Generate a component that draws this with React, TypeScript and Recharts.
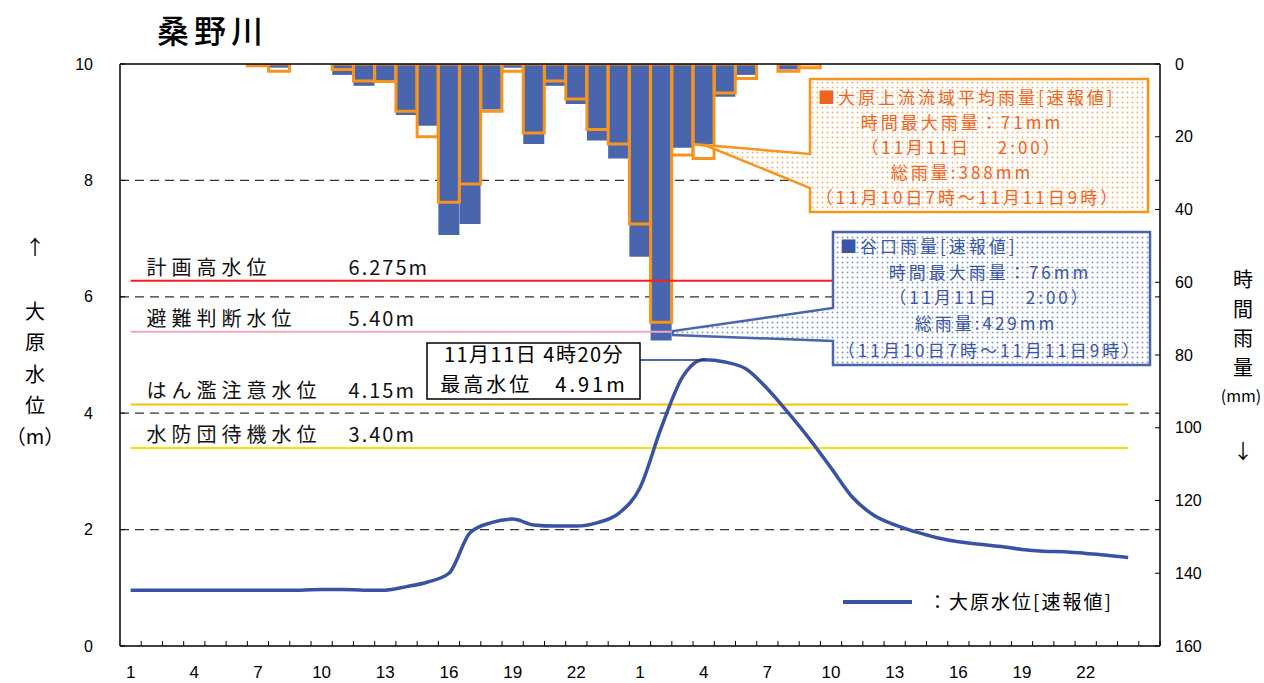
import React from 'react';
import { ComposedChart, Bar, Line, XAxis, YAxis, ReferenceLine, CartesianGrid } from 'recharts';

// ---------- data ----------
const hourLabels: string[] = [
  '1', '2', '3', '4', '5', '6', '7', '8', '9', '10', '11', '12',
  '13', '14', '15', '16', '17', '18', '19', '20', '21', '22', '23', '24',
  '1', '2', '3', '4', '5', '6', '7', '8', '9', '10', '11', '12',
  '13', '14', '15', '16', '17', '18', '19', '20', '21', '22', '23', '24',
  '',
];
const categories: string[] = hourLabels.map(
  (h, i) => (i < 24 ? '10日' : i < 48 ? '11日' : '12日') + (h || '1') + '時'
);

// 大原水位 [m]
const waterLevel: (number | null)[] = [
  0.96, 0.96, 0.96, 0.96, 0.96, 0.96, 0.96, 0.96, 0.96, 0.97, 0.97, 0.96,
  0.96, 1.02, 1.1, 1.25, 1.95, 2.12, 2.18, 2.08, 2.06, 2.06, 2.12, 2.28,
  2.72, 3.75, 4.62, 4.92, 4.88, 4.76, 4.42, 4.0, 3.55, 3.06, 2.56, 2.25,
  2.08, 1.96, 1.86, 1.79, 1.75, 1.71, 1.66, 1.63, 1.62, 1.59, 1.56, 1.52,
  null,
];

// 大原上流流域平均雨量 [mm]
const oharaRain: (number | null)[] = [
  null, null, null, null, null, null, 0.5, 2, null, null, 1.5, 4.7,
  4.8, 13, 20, 38, 33, 13, 2, 19, 4.7, 9.6, 18, 22,
  44, 71, 25, 26, 8, 4, null, 2, 1, null, null, null,
  null, null, null, null, null, null, null, null, null, null, null, null,
  null,
];

// 谷口雨量 [mm]
const taniguchiRain: (number | null)[] = [
  null, null, null, null, null, null, null, 1, null, null, 3, 6,
  5, 14, 17, 47, 44, 12.5, 1, 22, 6, 11, 21, 26,
  53, 76, 23, 22, 9, 3, null, 1.5, null, null, null, null,
  null, null, null, null, null, null, null, null, null, null, null, null,
  null,
];

const levelTicks = [0, 2, 4, 6, 8, 10];
const rainTicks = [0, 20, 40, 60, 80, 100, 120, 140, 160];
const gridLevels = [2, 4, 6, 8];

const thresholdNames = ['計画高水位', '避難判断水位', 'はん濫注意水位', '水防団待機水位'];
const thresholdValues = [6.275, 5.4, 4.15, 3.4];
const thresholdTexts = ['6.275m', '5.40m', '4.15m', '3.40m'];
const thresholdColors = ['#ff1a1a', '#f5a3c0', '#ffc000', '#f2e600'];

// ---------- layout ----------
const CHART_W = 1264;
const CHART_H = 683;
const MARGIN = { top: 64, right: 0, bottom: 0, left: 0 };
const LEFT_AXIS_W = 120;
const RIGHT_AXIS_W = 104;
const X_AXIS_H = 37;
const BAND = (CHART_W - LEFT_AXIS_W - RIGHT_AXIS_W) / categories.length;
const X_TICK_MARGIN = 26;
const L_TICK_MARGIN = 27;
const R_TICK_MARGIN = 15;
const TICK_LEN = 5;

const CJK = "'Noto Sans CJK JP', 'Noto Sans', sans-serif";
const LATIN = "'Liberation Sans', Arial, sans-serif";
const NARROW = "'Liberation Sans Narrow', 'Liberation Sans', Arial, sans-serif";

const BLUE_BAR = '#4965ae';
const ORANGE = '#f7941d';
const LINE_BLUE = '#3953a4';

const XTick = (props: any) => {
  const { x, y, index } = props;
  const axisY = y - X_TICK_MARGIN;
  const label = hourLabels[index];
  return (
    <g>
      <line x1={x + BAND / 2} x2={x + BAND / 2} y1={axisY} y2={axisY - TICK_LEN} stroke="#000" strokeWidth={1} />
      {index % 3 === 0 && label ? (
        <text x={x} y={y} dy="0.355em" textAnchor="middle" fontFamily={NARROW} fontSize={17} fill="#000">
          {label}
        </text>
      ) : null}
    </g>
  );
};

const LeftTick = (props: any) => {
  const { x, y, payload } = props;
  const axisX = x + L_TICK_MARGIN;
  return (
    <g>
      <line x1={axisX} x2={axisX + TICK_LEN} y1={y} y2={y} stroke="#000" strokeWidth={1} />
      <text x={x} y={y} dy="0.355em" textAnchor="end" fontFamily={LATIN} fontSize={16} fill="#000">
        {payload.value}
      </text>
    </g>
  );
};

const RightTick = (props: any) => {
  const { x, y, payload } = props;
  const axisX = x - R_TICK_MARGIN;
  return (
    <g>
      <line x1={axisX} x2={axisX - TICK_LEN} y1={y} y2={y} stroke="#000" strokeWidth={1} />
      <text x={x} y={y} dy="0.355em" textAnchor="start" fontFamily={LATIN} fontSize={16} fill="#000">
        {payload.value}
      </text>
    </g>
  );
};

const ThresholdLabel = (props: any) => {
  const { viewBox, labelName, labelText } = props;
  if (!viewBox) return null;
  const x = viewBox.x;
  const y = viewBox.y;
  return (
    <g>
      <text x={x + 16} y={y - 6} fontFamily={CJK} fontSize={20} letterSpacing={5} fill="#111">
        {labelName}
      </text>
      <text x={x + 218} y={y - 6} fontFamily={CJK} fontSize={20} letterSpacing={2} fill="#111">
        {labelText}
      </text>
    </g>
  );
};

export default function App() {
  const data = categories.map((c, i) => ({
    cat: c,
    level: waterLevel[i],
    ohara: oharaRain[i],
    tani: taniguchiRain[i],
  }));

  const orangeText = '#f0641e';
  const blueText = '#3a57a7';

  return (
    <div style={{ position: 'absolute', left: 0, top: 0, width: CHART_W, height: CHART_H, background: '#fff' }}>
      <ComposedChart width={CHART_W} height={CHART_H} data={data} margin={MARGIN} barCategoryGap={0} barGap={0}>
        <XAxis
          xAxisId="x"
          dataKey="cat"
          type="category"
          interval={0}
          height={X_AXIS_H}
          tickSize={0}
          tickMargin={X_TICK_MARGIN}
          tickLine={false}
          tick={(p: any) => <XTick {...p} />}
          axisLine={{ stroke: '#000', strokeWidth: 1.5 }}
        />
        <XAxis xAxisId="x2" dataKey="cat" type="category" hide />
        <YAxis
          yAxisId="level"
          domain={[0, 10]}
          ticks={levelTicks}
          type="number"
          width={LEFT_AXIS_W}
          tickSize={0}
          tickMargin={L_TICK_MARGIN}
          tickLine={false}
          tick={(p: any) => <LeftTick {...p} />}
          axisLine={{ stroke: '#000', strokeWidth: 1.5 }}
          allowDataOverflow
        />
        <YAxis
          yAxisId="rain"
          orientation="right"
          reversed
          domain={[0, 160]}
          ticks={rainTicks}
          type="number"
          width={RIGHT_AXIS_W}
          tickSize={0}
          tickMargin={R_TICK_MARGIN}
          tickLine={false}
          tick={(p: any) => <RightTick {...p} />}
          axisLine={{ stroke: '#000', strokeWidth: 1.5 }}
          allowDataOverflow
        />
        <CartesianGrid
          xAxisId="x"
          yAxisId="level"
          vertical={false}
          horizontalValues={gridLevels}
          stroke="#333"
          strokeDasharray="9 6"
          strokeWidth={1.2}
        />
        <Bar xAxisId="x" yAxisId="rain" dataKey="tani" fill={BLUE_BAR} isAnimationActive={false} />
        <Bar
          xAxisId="x2"
          yAxisId="rain"
          dataKey="ohara"
          fill="none"
          stroke={ORANGE}
          strokeWidth={3}
          isAnimationActive={false}
        />
        {thresholdValues.map((v, i) => (
          <ReferenceLine
            key={'th' + i}
            xAxisId="x"
            yAxisId="level"
            segment={[
              { x: categories[0], y: v },
              { x: categories[categories.length - 2], y: v },
            ]}
            stroke={thresholdColors[i]}
            strokeWidth={2}
            label={<ThresholdLabel labelName={thresholdNames[i]} labelText={thresholdTexts[i]} />}
          />
        ))}
        <ReferenceLine xAxisId="x" yAxisId="level" y={10} stroke="#000" strokeWidth={1.5} />
        <Line
          xAxisId="x"
          yAxisId="level"
          dataKey="level"
          type="monotone"
          stroke={LINE_BLUE}
          strokeWidth={3.5}
          dot={false}
          activeDot={false}
          isAnimationActive={false}
          connectNulls={false}
        />
      </ComposedChart>

      <svg
        width={CHART_W}
        height={CHART_H}
        style={{ position: 'absolute', left: 0, top: 0, pointerEvents: 'none' }}
      >
        <defs>
          <pattern id="dotO" width="5" height="5" patternUnits="userSpaceOnUse">
            <rect width="5" height="5" fill="#fff" />
            <circle cx="2.5" cy="2.5" r="0.95" fill="#f9b065" />
          </pattern>
          <pattern id="dotB" width="5" height="5" patternUnits="userSpaceOnUse">
            <rect width="5" height="5" fill="#fff" />
            <circle cx="2.5" cy="2.5" r="0.95" fill="#7f95cc" />
          </pattern>
        </defs>

        {/* title */}
        <text x={157} y={43} fontFamily={CJK} fontSize={32} fontWeight={500} letterSpacing={5} fill="#000">
          桑野川
        </text>

        {/* left axis title */}
        <g fontFamily={CJK} fontSize={20} fill="#000" textAnchor="middle">
          <text x={35} y={255}>↑</text>
          <text x={35} y={319}>大</text>
          <text x={35} y={350}>原</text>
          <text x={35} y={382}>水</text>
          <text x={35} y={413}>位</text>
          <text x={35} y={444}>（m）</text>
        </g>
        {/* right axis title */}
        <g fontFamily={CJK} fontSize={20} fill="#000" textAnchor="middle">
          <text x={1243} y={287}>時</text>
          <text x={1243} y={317}>間</text>
          <text x={1243} y={346}>雨</text>
          <text x={1243} y={375}>量</text>
          <text x={1241} y={402} fontSize={16}>(mm)</text>
          <text x={1243} y={459}>↓</text>
        </g>

        {/* orange callout */}
        <path
          d="M810,79 H1148 V212 H810 V188 L707,146 L693,144 L810,154 Z"
          fill="url(#dotO)"
          stroke={ORANGE}
          strokeWidth={2.5}
          strokeLinejoin="miter"
        />
        <g fontFamily={CJK} fontSize={17} fill={orangeText} letterSpacing={3}>
          <text x={818} y={104}>■大原上流流域平均雨量[速報値]</text>
          <text x={962} y={129} textAnchor="middle">時間最大雨量：71mm</text>
          <text x={962} y={154} textAnchor="middle">（11月11日　 2:00）</text>
          <text x={962} y={179} textAnchor="middle">総雨量:388mm</text>
          <text x={968} y={204} textAnchor="middle">（11月10日7時～11月11日9時）</text>
        </g>

        {/* blue callout */}
        <path
          d="M833,232 H1150 V365 H833 V341 L673,335 L673,331 L833,308 Z"
          fill="url(#dotB)"
          stroke={BLUE_BAR}
          strokeWidth={2.5}
        />
        <g fontFamily={CJK} fontSize={17} fill={blueText} letterSpacing={3}>
          <text x={840} y={253}>■谷口雨量[速報値]</text>
          <text x={990} y={279} textAnchor="middle">時間最大雨量：76mm</text>
          <text x={990} y={304} textAnchor="middle">（11月11日　 2:00）</text>
          <text x={986} y={330} textAnchor="middle">総雨量:429mm</text>
          <text x={990} y={357} textAnchor="middle">（11月10日7時～11月11日9時）</text>
        </g>

        {/* peak annotation */}
        <line x1={640} x2={706} y1={360} y2={360} stroke="#25337f" strokeWidth={1.3} />
        <rect x={427} y={343} width={213} height={56} fill="#fff" stroke="#000" strokeWidth={1.5} />
        <g fontFamily={CJK} fontSize={20} fill="#000" textAnchor="middle">
          <text x={534} y={362} letterSpacing={1.5}>11月11日 4時20分</text>
          <text x={534} y={392} letterSpacing={3}>最高水位　4.91m</text>
        </g>

        {/* legend */}
        <line x1={843} x2={912} y1={602} y2={602} stroke={LINE_BLUE} strokeWidth={4} />
        <text x={928} y={609} fontFamily={CJK} fontSize={19} letterSpacing={2} fill="#000">
          ：大原水位[速報値]
        </text>
      </svg>
    </div>
  );
}
